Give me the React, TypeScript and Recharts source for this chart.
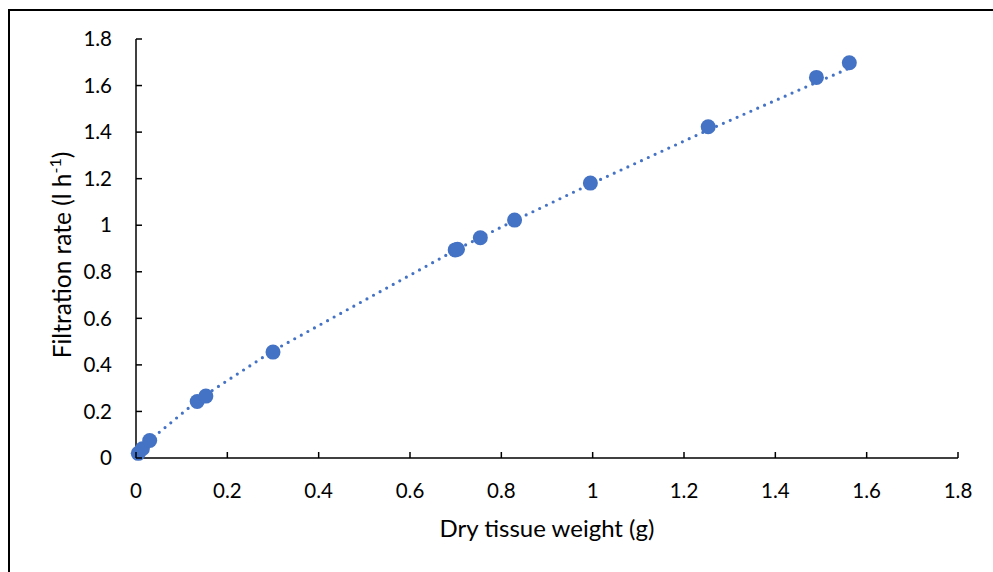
import React from 'react';
import { ScatterChart, Scatter, XAxis, YAxis } from 'recharts';

const dryWeight = [0.005, 0.014, 0.03, 0.134, 0.153, 0.3, 0.699, 0.704, 0.754, 0.829, 0.995, 1.253, 1.49, 1.562];
const filtrationRate = [0.02, 0.04, 0.075, 0.243, 0.266, 0.455, 0.894, 0.897, 0.946, 1.022, 1.181, 1.423, 1.635, 1.698];
const xTicks = [0, 0.2, 0.4, 0.6, 0.8, 1, 1.2, 1.4, 1.6, 1.8];
const yTicks = [0, 0.2, 0.4, 0.6, 0.8, 1, 1.2, 1.4, 1.6, 1.8];
const xTitle = 'Dry tissue weight (g)';
const yTitle = 'Filtration rate (l h';
const yTitleSup = '-1';

const points = dryWeight.map((x, i) => ({ x, y: filtrationRate[i] }));

// Power trendline (y = a * x^b) fitted by least squares on log values
const n = points.length;
const lx = points.map((p) => Math.log(p.x));
const ly = points.map((p) => Math.log(p.y));
const mx = lx.reduce((s, v) => s + v, 0) / n;
const my = ly.reduce((s, v) => s + v, 0) / n;
let num = 0;
let den = 0;
for (let i = 0; i < n; i++) {
  num += (lx[i] - mx) * (ly[i] - my);
  den += (lx[i] - mx) * (lx[i] - mx);
}
const b = num / den;
const a = Math.exp(my - b * mx);
const trend = [...dryWeight].sort((p, q) => p - q).map((x) => ({ x, y: a * Math.pow(x, b) }));

const BLUE = '#4472C4';
const FONT = 'Lato, "Open Sans", sans-serif';

const XTick = (p: any) => (
  <g>
    <line x1={p.x} x2={p.x} y1={p.y} y2={p.y - 6} stroke="#000" strokeWidth={1.5} />
    <text x={p.x} y={p.y + 25} dy="0.71em" textAnchor="middle" fontFamily={FONT} fontSize={20.5} fill="#000">
      {String(p.payload.value)}
    </text>
  </g>
);

const YTick = (p: any) => (
  <g>
    <line x1={p.x} x2={p.x + 6} y1={p.y} y2={p.y} stroke="#000" strokeWidth={1.5} />
    <text x={p.x - 24} y={p.y} dy="0.35em" textAnchor="end" fontFamily={FONT} fontSize={20.5} fill="#000">
      {String(p.payload.value)}
    </text>
  </g>
);

const Dot = (p: any) => <circle cx={p.cx} cy={p.cy} r={7.5} fill={BLUE} />;
const NoDot = () => <g />;

export default function App() {
  return (
    <div style={{ position: 'absolute', left: 0, top: 0, width: 993, height: 572, overflow: 'hidden', background: '#fff' }}>
      <div style={{ position: 'absolute', left: 8, top: 9, width: 1200, height: 800, border: '2px solid #000' }} />
      <div style={{ position: 'absolute', left: 0, top: 0 }}>
        <ScatterChart width={993} height={572} margin={{ top: 39, right: 35, bottom: 54, left: 76 }}>
          <XAxis
            type="number"
            dataKey="x"
            domain={[0, 1.8]}
            ticks={xTicks}
            height={60}
            axisLine={{ stroke: '#000', strokeWidth: 1.5 }}
            tickLine={false}
            tickSize={0}
            tickMargin={0}
            tick={XTick}
            interval={0}
            label={(props: any) => {
              const vb = props.viewBox;
              return (
                <text x={vb.x + vb.width / 2} y={537} textAnchor="middle" fontFamily={FONT} fontSize={24} fill="#000">
                  {xTitle}
                </text>
              );
            }}
          />
          <YAxis
            type="number"
            dataKey="y"
            domain={[0, 1.8]}
            ticks={yTicks}
            width={60}
            axisLine={{ stroke: '#000', strokeWidth: 1.5 }}
            tickLine={false}
            tickSize={0}
            tickMargin={0}
            tick={YTick}
            interval={0}
            label={() => (
              <text x={71} y={255} transform="rotate(-90 71 255)" textAnchor="middle" fontFamily={FONT} fontSize={24.5} fill="#000">
                {yTitle}
                <tspan fontSize={16} dy={-10}>{yTitleSup}</tspan>
                <tspan dy={10}>)</tspan>
              </text>
            )}
          />
          <Scatter
            data={trend}
            shape={NoDot}
            line={{ stroke: BLUE, strokeWidth: 3.2, strokeDasharray: '0 7.5', strokeLinecap: 'round' }}
            isAnimationActive={false}
            legendType="none"
          />
          <Scatter data={points} shape={Dot} fill={BLUE} isAnimationActive={false} />
        </ScatterChart>
      </div>
    </div>
  );
}
